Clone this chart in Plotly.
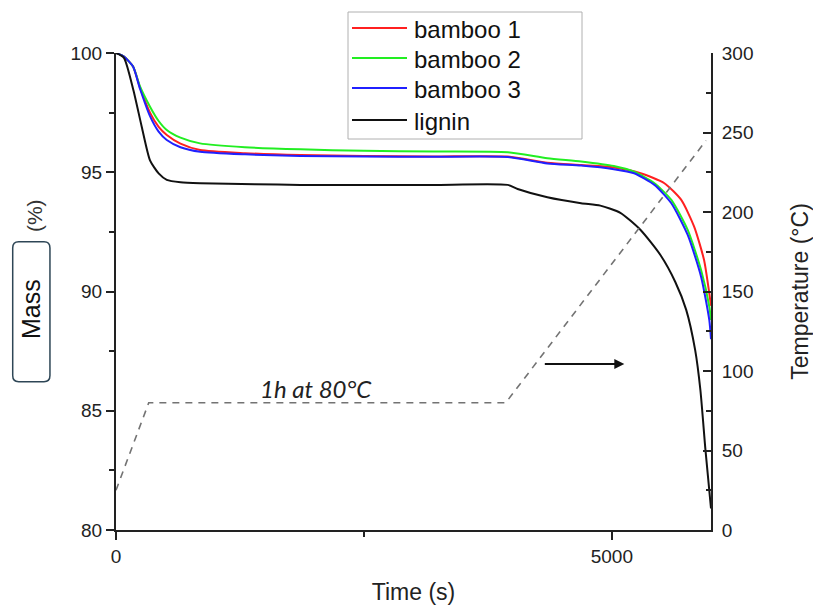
import plotly.graph_objects as go

# Time base (s) for the bamboo samples
time_bamboo = [0, 80, 172, 242, 343, 430, 512, 650, 848, 1300, 1859, 2500, 3200, 3950,
               4350, 4690, 5020, 5225, 5430, 5600, 5765, 5900, 5983, 6000]
time_bamboo1 = [0, 80, 172, 242, 343, 430, 512, 650, 848, 1300, 1859, 2500, 3200, 3950,
                4350, 4690, 5020, 5290, 5530, 5700, 5830, 5930, 5983, 6000]
time_lignin = [0, 80, 175, 260, 343, 430, 512, 650, 848, 1400, 1859, 2500, 3200, 3950,
               4050, 4350, 4690, 4884, 5086, 5290, 5490, 5640, 5750, 5840, 5893, 5944, 6000]

# Mass (%) curves
mass_bamboo1 = [100, 99.85, 99.43, 98.55, 97.5, 96.9, 96.56, 96.2, 95.93, 95.8, 95.72, 95.68,
                95.66, 95.66, 95.4, 95.3, 95.2, 94.96, 94.54, 93.84, 92.72, 91.32, 89.92, 89.4]
mass_bamboo2 = [100, 99.85, 99.43, 98.6, 97.75, 97.15, 96.77, 96.45, 96.21, 96.05, 95.96, 95.9,
                95.87, 95.84, 95.59, 95.45, 95.26, 95.02, 94.54, 93.84, 92.58, 90.9, 89.37, 88.8]
mass_bamboo3 = [100, 99.85, 99.43, 98.5, 97.35, 96.7, 96.35, 96.05, 95.86, 95.75, 95.68, 95.66,
                95.65, 95.64, 95.37, 95.28, 95.13, 94.96, 94.47, 93.7, 92.37, 90.62, 88.8, 88.0]
mass_lignin = [100, 99.8, 98.45, 96.9, 95.5, 94.95, 94.68, 94.58, 94.54, 94.5, 94.47, 94.47,
               94.47, 94.47, 94.3, 93.95, 93.7, 93.6, 93.3, 92.58, 91.53, 90.4, 89.23, 87.55,
               85.87, 83.36, 80.9]

# Temperature programme
time_temp = [0, 330, 3930, 5950]
temperature = [25, 80, 80, 245]

FONT = "Liberation Sans"

# plot-area geometry in pixels, used to place the legend block in paper units
L, R, T, B = 116, 711, 53, 530


def px_x(p):
    return (p - L) / (R - L)


def px_y(p):
    return (B - p) / (B - T)


fig = go.Figure()

fig.add_trace(go.Scatter(x=time_temp, y=temperature, yaxis="y2", mode="lines",
                         line=dict(color="#737373", width=1.6, dash="7px,6px"),
                         showlegend=False, hoverinfo="skip"))

series = [
    ("bamboo 1", time_bamboo1, mass_bamboo1, "#ff2020"),
    ("bamboo 2", time_bamboo, mass_bamboo2, "#22ee22"),
    ("bamboo 3", time_bamboo, mass_bamboo3, "#2020ff"),
    ("lignin", time_lignin, mass_lignin, "#111111"),
]
for name, t, m, c in series:
    fig.add_trace(go.Scatter(x=t, y=m, name=name, mode="lines", showlegend=False,
                             line=dict(color=c, width=2, shape="spline", smoothing=0.6)))

shapes = []
annotations = []

# legend block: framed box with a line sample and label per series
shapes.append(dict(type="rect", xref="paper", yref="paper",
                   x0=px_x(348), x1=px_x(582), y0=px_y(139), y1=px_y(12),
                   line=dict(color="#b0b0b0", width=1), fillcolor="white", layer="above"))
row_y = [28, 58, 88, 120]
for (name, _, _, c), ry in zip(series, row_y):
    shapes.append(dict(type="line", xref="paper", yref="paper",
                       x0=px_x(352), x1=px_x(407), y0=px_y(ry), y1=px_y(ry),
                       line=dict(color=c, width=2), layer="above"))
    annotations.append(dict(xref="paper", yref="paper", x=px_x(412), y=px_y(ry + 1),
                            xanchor="left", yanchor="middle", text=name, showarrow=False,
                            font=dict(size=24, color="#111")))

# rounded box around the left axis label
x0, x1 = -0.1736, -0.111
y0, y1 = 0.311, 0.6044
rx, ry = 0.010, 0.013
box_path = (f"M{x0+rx},{y0} L{x1-rx},{y0} Q{x1},{y0} {x1},{y0+ry} "
            f"L{x1},{y1-ry} Q{x1},{y1} {x1-rx},{y1} "
            f"L{x0+rx},{y1} Q{x0},{y1} {x0},{y1-ry} "
            f"L{x0},{y0+ry} Q{x0},{y0} {x0+rx},{y0} Z")
shapes.append(dict(type="path", xref="paper", yref="paper", path=box_path,
                   line=dict(color="#2e4656", width=1.5)))

annotations += [
    dict(xref="paper", yref="paper", x=-0.1429, y=0.4633, xanchor="center", yanchor="middle",
         text="Mass", textangle=-90, showarrow=False, font=dict(size=25, color="#111")),
    dict(xref="paper", yref="paper", x=-0.138, y=0.660, xanchor="center", yanchor="middle",
         text="(%)", textangle=-90, showarrow=False, font=dict(size=21, color="#333")),
    dict(x=2019, y=85.95, text="<i>1h at 80°C</i>", showarrow=False,
         font=dict(family="Lato", size=24, color="#222")),
    dict(x=5126, y=86.96, ax=4309, ay=86.96, axref="x", ayref="y",
         showarrow=True, arrowhead=2, arrowsize=1, arrowwidth=2, arrowcolor="#111", text=""),
]

fig.update_layout(
    width=813, height=607,
    margin=dict(l=L, r=813 - R, t=T, b=607 - B, autoexpand=False),
    paper_bgcolor="white", plot_bgcolor="white",
    font=dict(family=FONT, color="#222222", size=19),
    showlegend=False,
    xaxis=dict(range=[0, 6000], tickvals=[0, 5000], ticktext=["0", "5000"],
               ticks="outside", ticklen=8, tickwidth=1.5, tickcolor="#222",
               minor=dict(tickvals=[2500], ticklen=5, ticks="outside", tickcolor="#222"),
               showline=True, linecolor="#222", linewidth=2, showgrid=False, zeroline=False,
               title=dict(text="Time (s)", font=dict(size=23), standoff=18),
               tickfont=dict(size=19), automargin=False),
    yaxis=dict(range=[80, 100], dtick=5, ticks="outside", ticklen=8, tickwidth=1.5,
               tickcolor="#222",
               minor=dict(dtick=2.5, ticklen=5, ticks="outside", tickcolor="#222"),
               showline=True, linecolor="#222", linewidth=2, showgrid=False, zeroline=False,
               tickfont=dict(size=19), automargin=False),
    yaxis2=dict(range=[0, 300], dtick=50, overlaying="y", side="right",
                ticks="inside", ticklen=8, tickwidth=1.5, tickcolor="#222",
                minor=dict(dtick=25, ticklen=5, ticks="inside", tickcolor="#222"),
                showline=True, linecolor="#222", linewidth=2, showgrid=False, zeroline=False,
                tickfont=dict(size=19), automargin=False, ticklabelstandoff=5,
                title=dict(text="Temperature (°C)", font=dict(size=23), standoff=40)),
    shapes=shapes,
    annotations=annotations,
)

fig.write_html("out.html")
